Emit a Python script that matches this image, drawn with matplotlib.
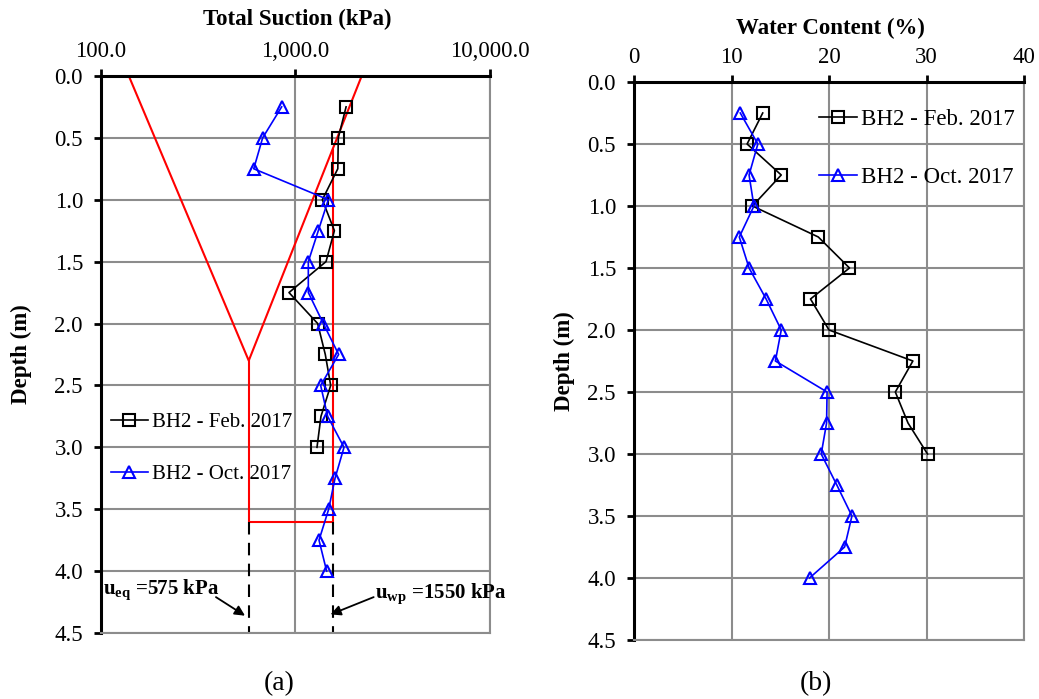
import matplotlib
matplotlib.use("Agg")
import matplotlib.pyplot as plt
import numpy as np

plt.rcParams["font.family"] = "Liberation Serif"
plt.rcParams["font.size"] = 16.5
plt.rcParams["mathtext.fontset"] = "custom"
plt.rcParams["mathtext.rm"] = "Liberation Serif"
plt.rcParams["mathtext.bf"] = "Liberation Serif:bold"

# Suction profile (kPa) vs depth (m)
depth_feb = [0.25, 0.5, 0.75, 1.0, 1.25, 1.5, 1.75, 2.0, 2.25, 2.5, 2.75, 3.0]
suction_feb = [1820, 1660, 1650, 1374, 1585, 1435, 926, 1300, 1423, 1517, 1352, 1290]
depth_oct = [0.25, 0.5, 0.75, 1.0, 1.25, 1.5, 1.75, 2.0, 2.25, 2.5, 2.75, 3.0,
             3.25, 3.5, 3.75, 4.0]
suction_oct = [849, 678, 610, 1475, 1310, 1164, 1164, 1390, 1667, 1347, 1463, 1776,
               1597, 1481, 1321, 1446]

# Water content (%)
wc_feb = [13.2, 11.6, 15.1, 12.15, 18.9, 22.1, 18.1, 20.0, 28.6, 26.8, 28.1, 30.1]
wc_oct = [10.9, 12.7, 11.8, 12.3, 10.8, 11.8, 13.55, 15.1, 14.5, 19.8, 19.75, 19.2,
          20.8, 22.35, 21.6, 18.0]

# Design envelope
u_top_left = 139
u_top_right = 2190
u_eq = 575
u_wp = 1550
d_vertex = 2.3
d_active = 3.6

fig = plt.figure(figsize=(10.39, 6.99), dpi=100)
ax1 = fig.add_axes([0.0972, 0.0944, 0.3744, 0.797])
ax2 = fig.add_axes([0.6102, 0.0844, 0.3754, 0.7983])

grid_c = "#8c8c8c"

def style(ax, title, tx, ty, ly):
    ax.set_ylim(4.5, 0)
    ax.set_yticks(np.arange(0, 4.51, 0.5))
    ax.set_yticklabels([f"{v:.1f}" for v in np.arange(0, 4.51, 0.5)])
    ax.xaxis.tick_top()
    ax.xaxis.set_label_position("top")
    ax.tick_params(axis="both", direction="out", length=5, width=2)
    ax.tick_params(axis="y", pad=8)
    ax.tick_params(axis="x", pad=5)
    ax.tick_params(axis="x", which="minor", top=False, bottom=False)
    ax.grid(True, which="major", color=grid_c, lw=1.5)
    ax.set_axisbelow(True)
    for s in ["left", "top"]:
        ax.spines[s].set_color("black")
        ax.spines[s].set_linewidth(2.2)
    for s in ["right", "bottom"]:
        ax.spines[s].set_color(grid_c)
        ax.spines[s].set_linewidth(1.5)
    ax.set_xlabel(title, fontweight="bold")
    ax.xaxis.label.set_verticalalignment("center")
    ax.xaxis.set_label_coords(tx, ty)
    ax.set_ylabel("Depth (m)", fontweight="bold")
    ax.yaxis.label.set_verticalalignment("center")
    ax.yaxis.set_label_coords(ly, 0.5)

# ---- (a) suction ----
ax1.set_xscale("log")
ax1.set_xlim(100, 10000)
ax1.set_xticks([100, 1000, 10000])
ax1.set_xticklabels(["100.0", "1,000.0", "10,000.0"])
style(ax1, "Total Suction (kPa)", 0.504, 1.1005, -0.2057)

# red envelope
ax1.plot([u_top_left, u_eq, u_top_right], [0, d_vertex, 0], color="red", lw=1.5, zorder=2)
frac = (np.log10(u_wp) - np.log10(u_eq)) / (np.log10(u_top_right) - np.log10(u_eq))
d_cross = d_vertex * (1 - frac)
ax1.plot([u_eq, u_eq, u_wp, u_wp], [d_vertex, d_active, d_active, d_cross],
         color="red", lw=1.5, zorder=2)
ax1.plot([u_eq, u_eq], [d_active, 4.5], color="black", ls=(0, (6, 4)), lw=1.5, zorder=2)
ax1.plot([u_wp, u_wp], [d_active, 4.5], color="black", ls=(0, (6, 4)), lw=1.5, zorder=2)

ax1.plot(suction_feb, depth_feb, color="black", marker="s", ms=8.5, mfc="none",
         mew=1.5, lw=1.2, label="BH2 - Feb. 2017", zorder=3)
ax1.plot(suction_oct, depth_oct, color="blue", marker="^", ms=9, mfc="none",
         mew=1.5, lw=1.2, label="BH2 - Oct. 2017", zorder=3)
ax1.legend(loc="upper left", bbox_to_anchor=(0.025, 0.396), frameon=False,
           borderpad=0, borderaxespad=0, handlelength=1.8, handletextpad=0.2,
           labelspacing=1.55, fontsize=15)

arrow = dict(arrowstyle="-|>", color="black", lw=1.3, mutation_scale=15,
             shrinkA=0, shrinkB=0)
ax1.text(102, 4.16, r"$\mathbf{u}_{\mathbf{eq}}$ =575 kPa", fontsize=15,
         fontweight="bold", ha="left", va="center")
ax1.annotate("", xy=(550, 4.36), xytext=(390, 4.21), arrowprops=arrow)
ax1.text(2564, 4.19, r"$\mathbf{u}_{\mathbf{wp}}$ =1550 kPa", fontsize=15,
         fontweight="bold", ha="left", va="center")
ax1.annotate("", xy=(1514, 4.35), xytext=(2523, 4.21), arrowprops=arrow)

# ---- (b) water content ----
ax2.set_xlim(0, 40)
ax2.set_xticks([0, 10, 20, 30, 40])
style(ax2, "Water Content (%)", 0.503, 1.0968, -0.1795)
ax2.plot(wc_feb, depth_feb, color="black", marker="s", ms=8.5, mfc="none",
         mew=1.5, lw=1.2, label="BH2 - Feb. 2017", zorder=3)
ax2.plot(wc_oct, depth_oct, color="blue", marker="^", ms=9, mfc="none",
         mew=1.5, lw=1.2, label="BH2 - Oct. 2017", zorder=3)
ax2.legend(loc="upper left", bbox_to_anchor=(0.474, 0.9516), frameon=False,
           borderpad=0, borderaxespad=0, handlelength=1.65, handletextpad=0.2,
           labelspacing=1.59, fontsize=16.5)

fig.text(0.2685, 0.0215, "(a)", fontsize=20, ha="center", va="center")
fig.text(0.785, 0.0215, "(b)", fontsize=20, ha="center", va="center")

fig.savefig("out.png", dpi=100)
